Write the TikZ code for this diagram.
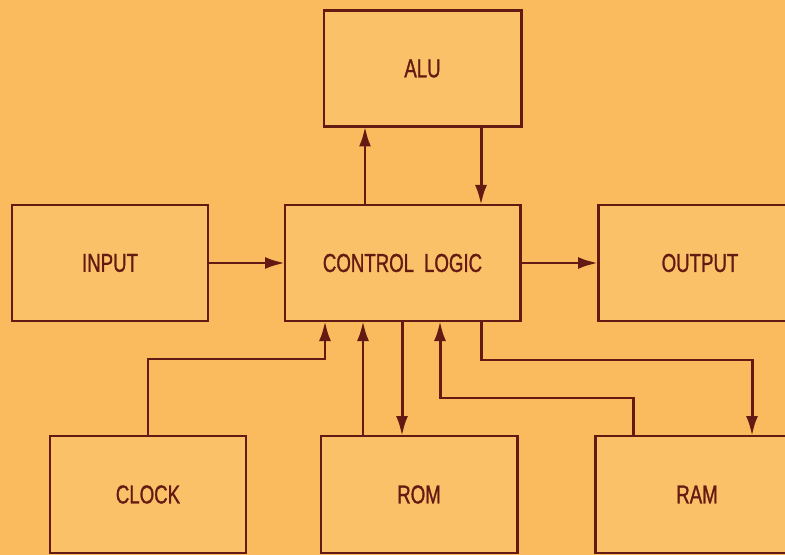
\documentclass[tikz,border=0pt]{standalone}
\usepackage{fontspec}
\newfontfamily\blockfont[FakeStretch=0.72,FakeBold=1]{Liberation Sans}
\usetikzlibrary{arrows.meta}
\definecolor{paper}{RGB}{250,187,94}
\definecolor{boxfill}{RGB}{251,193,104}
\definecolor{ink}{RGB}{98,26,18}
\tikzset{blk/.style={draw=ink,fill=boxfill,line width=3pt,outer sep=0pt,minimum height=116bp,text=ink,font=\blockfont\fontsize{26}{28}\selectfont},
 arr/.style={-{Latex[length=20bp,width=12bp]},draw=ink,line width=3pt}}

\begin{document}
\begin{tikzpicture}[x=1bp,y=-1bp]
 	\fill[paper] (0,0) rectangle (785,555);
 	\useasboundingbox (0,0) rectangle (785,555);
 	\clip (0,0) rectangle (785,555);
 	% blocks
 	\node[blk,minimum width=197bp] (alu) at (422.5,68.5) {ALU};
 	\node[blk,minimum width=235bp] (ctrl) at (402.5,263) {CONTROL\hskip10bp LOGIC};
 	\node[blk,minimum width=196bp] (inp) at (110,263) {INPUT};
 	\node[blk,minimum width=204bp] (outp) at (700,263) {OUTPUT};
 	\node[blk,minimum width=196bp,minimum height=117bp] (clk) at (148,494.5) {CLOCK};
 	\node[blk,minimum width=196bp,minimum height=117bp] (rom) at (419,494.5) {ROM};
 	\node[blk,minimum width=204bp,minimum height=117bp] (ram) at (697,494.5) {RAM};
 	% connectors
 	\draw[arr] (ctrl.north -| 365,0) -- (alu.south -| 365,0);
 	\draw[arr] (alu.south -| 481,0) -- (ctrl.north -| 481,0);
 	\draw[arr] (inp) -- (ctrl);
 	\draw[arr] (ctrl) -- (outp);
 	\draw[arr] (clk.north) |- (325,359) -- (ctrl.south -| 325,0);
 	\draw[arr] (rom.north -| 363,0) -- (ctrl.south -| 363,0);
 	\draw[arr] (ctrl.south -| 402,0) -- (rom.north -| 402,0);
 	\draw[arr] (ram.north -| 633,0) |- (440,398) -- (ctrl.south -| 440,0);
 	\draw[arr] (ctrl.south -| 481,0) |- (752,360) -- (ram.north -| 752,0);
\end{tikzpicture}
\end{document}
